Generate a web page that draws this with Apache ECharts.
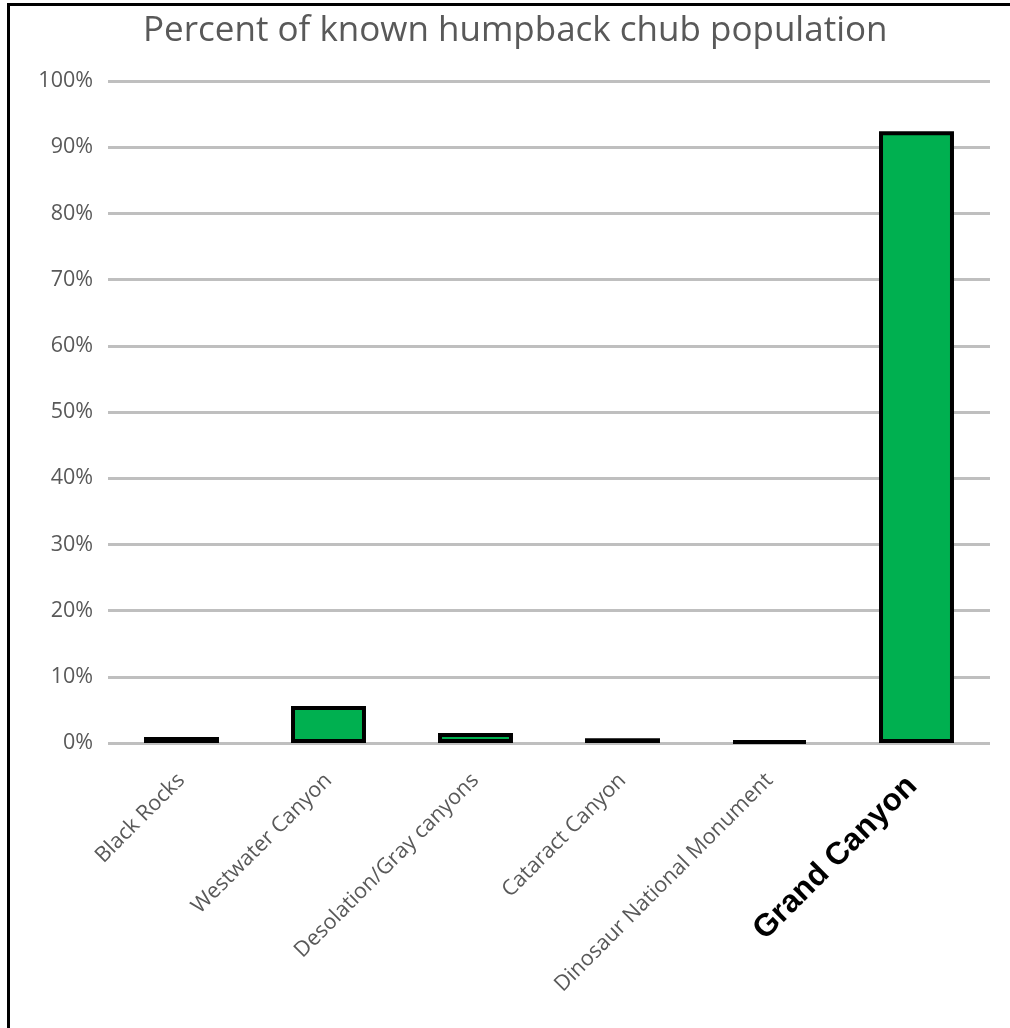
<!DOCTYPE html>
<html>
<head>
<meta charset="utf-8">
<script src="https://cdn.jsdelivr.net/npm/echarts@6/dist/echarts.min.js"></script>
<style>
html,body{margin:0;padding:0;background:#fff;}
#frame{position:absolute;left:7px;top:3px;width:1010px;height:1030px;border-left:3px solid #000;border-top:3px solid #000;box-sizing:border-box;}
#chart{position:absolute;left:0;top:0;width:1010px;height:1028px;}
</style>
</head>
<body>
<div id="frame"></div>
<div id="chart"></div>
<script>
const titleText = 'Percent of known humpback chub population';
const categories = ['Black Rocks', 'Westwater Canyon', 'Desolation/Gray canyons', 'Cataract Canyon', 'Dinosaur National Monument', 'Grand Canyon'];
const percentValues = [0.9, 5.6, 1.5, 0.7, 0.3, 92.4];
const highlightCategory = 'Grand Canyon';

const chart = echarts.init(document.getElementById('chart'), null, {renderer: 'canvas'});
chart.setOption({
  backgroundColor: 'transparent',
  animation: false,
  title: {
    text: titleText,
    left: 138,
    top: 9,
    textStyle: {fontFamily: 'Open Sans', fontWeight: 'normal', fontSize: 35, color: '#595959'}
  },
  grid: {left: 108, right: 20, top: 81, bottom: 285, containLabel: false},
  xAxis: {
    type: 'category',
    data: categories,
    axisLine: {show: false},
    axisTick: {show: false},
    axisLabel: {
      interval: 0,
      rotate: 45,
      margin: 34,
      formatter: function (v) { return v === highlightCategory ? '{hl|' + v + '}' : '{n|' + v + '}'; },
      rich: {
        n: {fontFamily: 'Open Sans', fontSize: 21.5, color: '#595959'},
        hl: {fontFamily: 'Liberation Sans', fontWeight: 'bold', fontSize: 31.5, color: '#000', padding: [0, 6, 0, 0]}
      }
    }
  },
  yAxis: {
    type: 'value',
    min: 0,
    max: 100,
    interval: 10,
    axisLine: {show: false},
    axisTick: {show: false},
    axisLabel: {formatter: '{value}%', margin: 15, fontFamily: 'Open Sans', fontSize: 21.5, color: '#595959'},
    splitLine: {lineStyle: {color: '#bfbfbf', width: 3}}
  },
  series: [{
    type: 'bar',
    data: percentValues,
    barWidth: '51%',
    itemStyle: {color: '#00b050', borderColor: '#000', borderWidth: 4}
  }]
});
</script>
</body>
</html>
